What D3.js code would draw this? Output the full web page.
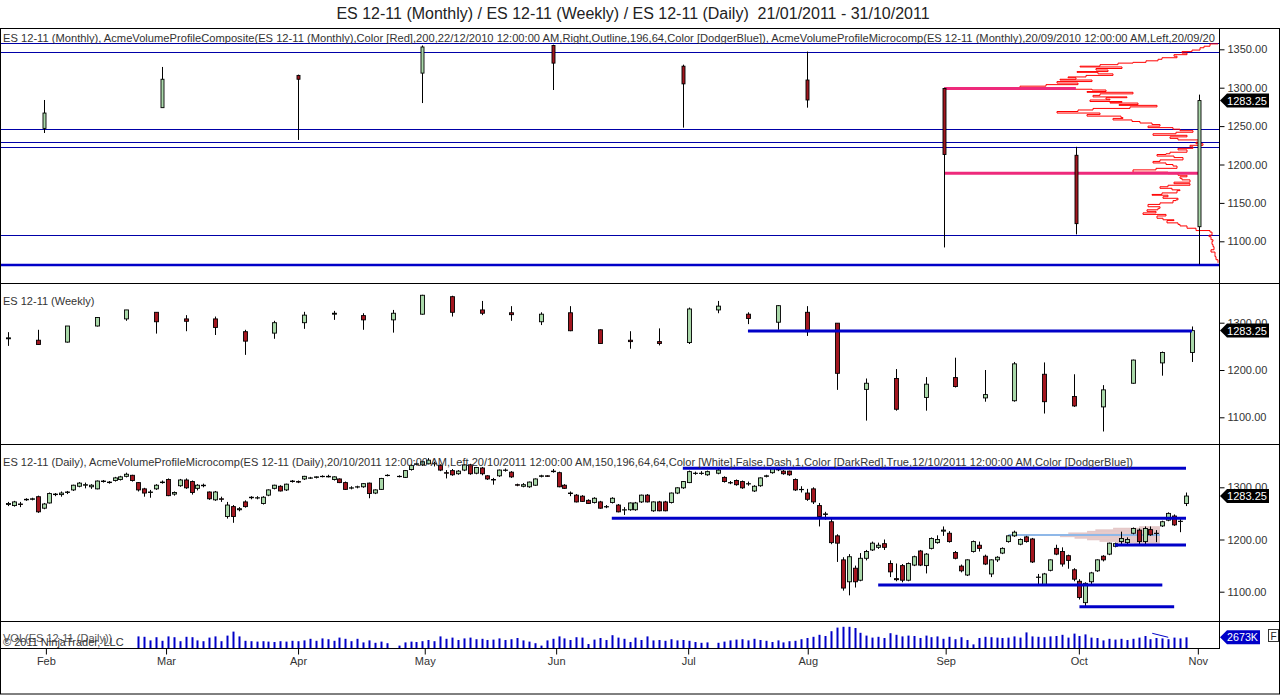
<!DOCTYPE html>
<html>
<head>
<meta charset="utf-8">
<script src="https://cdn.jsdelivr.net/npm/d3@7"></script>
<style>
  body { margin: 0; background: #fff; }
  text { font-family: "Liberation Sans", Arial, sans-serif; }
</style>
</head>
<body>
<svg id="chart" width="1280" height="695"></svg>
<script>
// ---- data ----
var titleText = "ES 12-11 (Monthly) / ES 12-11 (Weekly) / ES 12-11 (Daily) \u00a021/01/2011 - 31/10/2011";
var monthLabels = ["Feb", "Mar", "Apr", "May", "Jun", "Jul", "Aug", "Sep", "Oct", "Nov"];
// bar slot (daily bar index) where each month starts
var monthSlots = [6.4, 26.7, 49, 70.4, 92.6, 114.9, 135.1, 158.4, 180.9, 201];

// monthly bars Jan..Oct, placed at the month end slot: [open, high, low, close]
var monthlySlots = [6, 26, 49, 70, 92, 114, 135, 158.2, 180.4, 201.2];
var monthlyBars = [
  [1247, 1284, 1241, 1267], [1274, 1327, 1274, 1311], [1316, 1317, 1232, 1311],
  [1319, 1355, 1280, 1353], [1355, 1356, 1297, 1332], [1328, 1330, 1248, 1305],
  [1310, 1347, 1274, 1284], [1299, 1300, 1092, 1213], [1212, 1223, 1109, 1123],
  [1119, 1291, 1070, 1283.25]
];
// weekly bars, one every 5 daily slots
var weeklyBars = [
  [1266, 1280, 1251, 1268], [1263, 1285, 1254, 1254], [1259, 1293, 1258, 1293], [1293, 1312, 1292, 1311],
  [1308, 1327, 1304, 1327], [1322, 1322, 1277, 1302], [1308, 1316, 1282, 1303], [1308, 1313, 1274, 1290],
  [1281, 1285, 1232, 1261], [1278, 1304, 1266, 1300], [1300, 1323, 1287, 1316], [1318, 1325, 1306, 1320],
  [1315, 1320, 1285, 1306], [1306, 1327, 1279, 1320], [1318, 1359, 1317, 1358], [1355, 1357, 1313, 1322],
  [1327, 1346, 1316, 1320], [1321, 1335, 1304, 1317], [1302, 1322, 1295, 1318], [1321, 1335, 1282, 1283],
  [1285, 1286, 1256, 1256], [1263, 1282, 1245, 1260], [1260, 1288, 1252, 1256], [1258, 1332, 1255, 1329],
  [1327, 1346, 1320, 1335], [1318, 1322, 1297, 1309], [1301, 1337, 1285, 1336], [1322, 1335, 1272, 1281],
  [1299, 1299, 1158, 1193], [1159, 1182, 1093, 1172], [1182, 1202, 1114, 1117], [1142, 1185, 1114, 1170],
  [1184, 1226, 1163, 1165], [1141, 1200, 1133, 1148], [1135, 1217, 1133, 1213], [1191, 1216, 1108, 1133],
  [1144, 1191, 1122, 1124], [1122, 1168, 1070, 1158], [1172, 1222, 1171, 1221], [1215, 1239, 1188, 1237],
  [1237, 1292, 1217, 1283.25]
];
// daily bars, one per slot (null = empty slot): [open, high, low, close]
var dailyBars = [
  [1267,1272,1264,1269],[1265,1274,1263,1272],[1268,1272,1262,1267],[1276,1279,1274,1277],[1277,1280,1275,1278],
  [1282,1284,1251,1253],[1260,1270,1258,1268],[1270,1290,1269,1288],[1287,1289,1283,1286],[1286,1292,1282,1289],
  [1290,1293,1287,1291],[1295,1305,1293,1304],[1302,1310,1300,1308],[1304,1309,1298,1305],[1301,1306,1297,1304],
  [1297,1313,1296,1312],[1311,1314,1309,1312],[1309,1312,1307,1310],[1313,1320,1311,1318],[1315,1322,1313,1320],
  [1321,1328,1319,1325],[1323,1324,1311,1313],[1309,1310,1292,1295],[1297,1299,1282,1289],[1290,1295,1280,1291],
  [1297,1306,1295,1304],[1309,1313,1307,1310],[1315,1317,1283,1284],[1287,1292,1284,1290],[1303,1316,1301,1314],
  [1314,1317,1297,1299],[1311,1313,1286,1290],[1298,1306,1294,1304],[1303,1307,1300,1304],[1291,1292,1276,1278],
  [1276,1293,1274,1291],[1278,1282,1272,1277],[1244,1272,1240,1266],[1263,1266,1232,1244],[1257,1262,1254,1259],
  [1272,1275,1261,1263],[1280,1283,1277,1281],[1280,1283,1277,1280],[1269,1283,1267,1281],[1285,1296,1283,1295],
  [1298,1305,1296,1304],[1302,1304,1292,1293],[1295,1307,1293,1306],[1312,1314,1309,1311],[1311,1313,1308,1310],
  [1316,1322,1314,1321],[1318,1320,1316,1318],[1319,1321,1317,1320],[1321,1323,1319,1321],[1321,1324,1319,1320],
  [1315,1321,1313,1320],[1316,1317,1308,1309],[1309,1311,1295,1296],[1299,1302,1296,1299],[1301,1303,1298,1301],
  [1301,1308,1299,1307],[1308,1309,1279,1288],[1289,1296,1287,1295],[1296,1318,1295,1317],[1323,1325,1321,1323],
  null,
  [1321,1323,1319,1321],[1319,1333,1318,1332],[1334,1344,1332,1342],[1344,1347,1342,1345],
  [1343,1350,1341,1349],[1345,1356,1344,1352],[1345,1349,1340,1346],[1342,1344,1331,1333],[1328,1333,1317,1327],
  [1332,1335,1322,1324],[1326,1333,1324,1331],[1333,1344,1331,1343],[1343,1345,1324,1326],[1327,1339,1325,1338],
  [1337,1339,1323,1326],[1322,1323,1314,1316],[1315,1318,1305,1314],[1322,1334,1320,1333],[1333,1336,1330,1333],
  [1329,1331,1318,1320],[1305,1307,1302,1304],[1302,1308,1300,1305],[1301,1311,1299,1310],[1304,1317,1303,1316],
  [1321,1324,1319,1322],[1322,1323,1320,1321],[1330,1335,1328,1331],[1328,1330,1300,1301],[1304,1306,1297,1298],
  [1288,1292,1283,1289],[1285,1287,1271,1272],[1283,1285,1272,1273],[1275,1277,1268,1269],[1271,1281,1269,1279],
  [1272,1274,1259,1260],[1263,1266,1260,1263],[1271,1281,1269,1279],[1266,1268,1252,1253],[1257,1262,1247,1257],
  [1257,1271,1255,1270],[1257,1272,1255,1270],[1272,1286,1270,1285],[1285,1287,1271,1272],[1255,1273,1253,1272],
  [1272,1274,1254,1255],[1272,1274,1254,1255],[1271,1290,1269,1289],[1289,1300,1287,1299],[1299,1312,1297,1311],
  [1309,1332,1308,1330],[1327,1330,1324,1327],[1327,1331,1324,1327],[1324,1332,1322,1330],
  null,
  [1327,1336,1325,1333],[1319,1321,1309,1311],[1309,1312,1306,1309],[1313,1315,1303,1305],[1311,1313,1297,1299],
  [1307,1311,1303,1307],[1293,1304,1291,1302],[1303,1319,1301,1318],[1321,1324,1319,1322],[1328,1338,1326,1337],
  [1334,1337,1331,1334],[1331,1333,1324,1326],[1331,1332,1322,1324],[1315,1317,1293,1295],[1296,1302,1290,1296],
  [1289,1297,1274,1277],[1297,1300,1268,1272],[1265,1270,1225,1244],[1248,1253,1238,1249],[1234,1240,1191,1194],
  [1207,1210,1157,1193],[1161,1166,1102,1107],[1119,1172,1093,1167],[1145,1150,1108,1119],[1122,1174,1120,1164],
  [1164,1180,1160,1177],[1180,1196,1178,1193],[1185,1194,1182,1189],[1192,1200,1180,1185],[1154,1160,1128,1138],
  [1125,1154,1120,1123],[1150,1153,1118,1122],[1122,1156,1120,1154],[1151,1169,1149,1167],[1178,1180,1149,1151],
  [1150,1174,1135,1172],[1183,1204,1181,1202],[1194,1208,1192,1200],[1216,1225,1207,1218],[1212,1216,1194,1196],
  [1175,1178,1162,1164],[1149,1152,1137,1140],[1132,1162,1130,1161],[1177,1198,1175,1196],[1189,1196,1177,1183],
  [1168,1171,1151,1153],[1134,1162,1128,1161],[1161,1168,1157,1166],[1174,1185,1172,1183],[1196,1208,1194,1207],
  [1207,1217,1205,1214],[1191,1202,1189,1200],[1205,1207,1194,1196],[1201,1203,1155,1157],[1128,1134,1113,1128],
  [1114,1136,1112,1134],[1141,1162,1139,1161],[1183,1190,1170,1172],[1177,1185,1148,1153],[1169,1171,1144,1160],
  [1142,1145,1120,1124],[1120,1124,1085,1089],[1079,1118,1070,1116],[1119,1138,1113,1136],[1140,1162,1138,1161],
  [1168,1170,1158,1161],[1172,1194,1170,1193],[1187,1194,1185,1192],[1196,1215,1188,1202],[1194,1204,1188,1200],
  [1212,1223,1210,1221],[1218,1221,1190,1196],[1196,1225,1190,1221],[1219,1225,1207,1209],[1212,1218,1195,1212],
  [1226,1236,1224,1234],[1237,1252,1235,1250],[1245,1248,1226,1228],[1235,1242,1214,1235],[1269,1290,1264,1283.25]
];
// daily volume in thousands of contracts (null = no bar shown)
var dailyVolume = [
  null,null,null,null,null,null,null,null,null,null,
  null,null,null,null,null,null,null,null,null,null,
  null,null,2900,2800,1900,2700,1800,2900,2700,1700,
  2800,2700,1900,1700,2600,2900,1700,3100,4100,2900,
  1800,1700,1600,1700,1600,1500,1700,1600,1800,1700,
  1900,2300,1800,2400,2200,1800,2600,2300,1700,2300,
  1400,1900,1300,1600,1200,null,600,1400,1600,1500,
  1700,2000,1700,2900,2300,2600,2000,2400,2600,2200,
  2300,2000,2100,2400,2000,2200,2500,1900,1600,1200,
  600,1900,2300,2900,2400,2000,2700,2600,1000,2100,
  2500,2000,3200,2600,2300,1500,2600,2000,2900,1900,
  2000,1800,2200,1900,2000,1800,1500,1300,1400,null,
  1300,1600,1900,2100,2200,1900,2300,2000,1800,1500,
  1900,1400,1700,1800,2200,2500,2800,3300,3000,4200,
  5100,5300,5300,5000,3800,3100,2600,2800,2500,3700,
  3300,2900,3100,3000,2500,3100,2700,2900,2300,2800,
  2200,2700,2000,900,2500,2800,2700,2600,2500,2600,
  2900,2600,3900,2900,2800,2700,2900,3000,3300,2600,
  3600,3000,3400,2600,2500,1900,2300,2100,2300,2000,
  2300,2600,3000,2200,2500,2400,2200,2600,2400,2673
];
var lastPrice = 1283.25;
var lastVolume = 2673;
var volumeLine = [[193.3, 3675], [196, 2675]];

// monthly panel: horizontal levels, composite profile and microcomp lines
var monthlyLevels = [1358, 1346, 1246, 1229.6, 1222.7, 1108];
var monthlyLowLevel = 1069;
var pinkLevels = [[1299, 158.2, 180.4], [1188.5, 158.2, 201.2]];
var profilePrice = [1357, 1354, 1352, 1349, 1347, 1345, 1343, 1341, 1339, 1337, 1335, 1333, 1332, 1330, 1328, 1327,
  1325, 1323, 1321, 1320, 1318, 1316, 1314, 1313, 1311, 1310, 1308, 1306, 1304, 1302, 1300, 1298, 1297, 1295,
  1294, 1292, 1290, 1288, 1287, 1285, 1284, 1282, 1281, 1280, 1278, 1277, 1275, 1273, 1271, 1269, 1267, 1265,
  1263, 1261, 1260, 1258, 1256, 1254, 1252, 1250, 1248, 1246, 1244, 1242, 1240, 1238, 1236, 1234, 1232, 1229,
  1227, 1225, 1223, 1221, 1219, 1216, 1214, 1213, 1211, 1209, 1206, 1204, 1202, 1200, 1198, 1195, 1193, 1190,
  1188, 1186, 1184, 1182, 1180, 1177, 1175, 1173, 1171, 1169, 1167, 1166, 1163, 1161, 1160, 1158, 1156, 1154,
  1153, 1150, 1148, 1145, 1143, 1141, 1139, 1137, 1135, 1133, 1130, 1128, 1127, 1124, 1122, 1120, 1117, 1114,
  1112, 1108, 1106, 1102, 1100, 1096, 1093, 1089, 1086, 1083, 1080, 1076, 1072];
var profileVolume = [0, 8, 14, 18, 26, 36, 31, 44, 41, 56, 60, 72, 85, 100, 118, 138,
  96, 122, 110, 141, 120, 105, 132, 150, 142, 158, 126, 161, 140, 172, 198, 145, 126, 112,
  131, 85, 118, 125, 91, 112, 108, 128, 96, 108, 80, 99, 61, 88, 125, 140, 161, 118,
  131, 97, 95, 105, 86, 78, 66, 58, 70, 45, 38, 25, 42, 65, 31, 48, 40, 18,
  22, 15, 28, 25, 40, 31, 48, 52, 61, 44, 35, 58, 65, 52, 45, 41, 62, 85,
  50, 40, 31, 38, 36, 28, 44, 28, 50, 58, 46, 38, 41, 56, 66, 50, 55, 40,
  42, 45, 58, 70, 58, 60, 71, 62, 75, 52, 61, 55, 44, 51, 40, 38, 31, 22,
  8, 6, 9, 7, 5, 6, 5, 4, 7, 3, 3, 2, 0];

// weekly panel level
var weeklyLevel = [1282.5, 125, 200];

// daily panel levels [price, from slot, to slot]
var dailyLevels = [[1336.4, 114, 199], [1240.6, 102, 199], [1189.5, 187, 199], [1112.8, 147, 195], [1071, 181, 197]];
var dailyLightLevel = [1208.6, 169, 194.6];
var microPrice = [1224, 1221, 1218, 1215, 1212, 1209, 1206, 1203, 1200, 1197, 1194, 1191];
var microVolume = [20, 45, 62, 70, 88, 120, 96, 82, 70, 58, 42, 25];
var microAnchorSlot = 194.6;

var monthlyLabel = "ES 12-11 (Monthly), AcmeVolumeProfileComposite(ES 12-11 (Monthly),Color [Red],200,22/12/2010 12:00:00 AM,Right,Outline,196,64,Color [DodgerBlue]), AcmeVolumeProfileMicrocomp(ES 12-11 (Monthly),20/09/2010 12:00:00 AM,Left,20/09/20";
var weeklyLabel = "ES 12-11 (Weekly)";
var dailyLabel = "ES 12-11 (Daily), AcmeVolumeProfileMicrocomp(ES 12-11 (Daily),20/10/2011 12:00:00 AM,Left,20/10/2011 12:00:00 AM,150,196,64,64,Color [White],False,Dash,1,Color [DarkRed],True,12/10/2011 12:00:00 AM,Color [DodgerBlue])";

// ---- drawing ----
var upColor = "#a9d8a9", downColor = "#a3161f", levelBlue = "#0000c8";
var axisX = 1219;

function initialize(){
    var svg = d3.select("#chart");
    var x = d3.scaleLinear().domain([0, 199]).range([8, 1186]);

    // panels: price scale + vertical extent
    var p1 = {top: 28, bottom: 283, y: d3.scaleLinear().domain([1100, 1350]).range([241.3, 49.3])};
    var p2 = {top: 283, bottom: 444, y: d3.scaleLinear().domain([1100, 1300]).range([417.3, 322.7])};
    var p3 = {top: 444, bottom: 621, y: d3.scaleLinear().domain([1100, 1300]).range([591.7, 487.3])};
    var p4 = {top: 621, bottom: 648, y: d3.scaleLinear().domain([0, 6000]).range([648, 624])};

    var defs = svg.append("defs");
    [p1, p2, p3, p4].forEach(function(p, i){
        p.id = "clip" + i;
        defs.append("clipPath").attr("id", p.id)
            .append("rect").attr("x", 0).attr("y", p.top + 1)
            .attr("width", axisX).attr("height", p.bottom - p.top - 1);
        p.g = svg.append("g").attr("clip-path", "url(#" + p.id + ")");
    });

    // title
    svg.append("text").attr("x", 633).attr("y", 19).attr("text-anchor", "middle")
        .attr("font-size", 16).attr("fill", "#222").text(titleText);

    drawMonthly(p1, x);
    drawWeekly(p2, x);
    drawDaily(p3, x);
    drawVolume(p4, x);
    drawFrame(svg);
    drawAxes(svg, x, [p1, p2, p3, p4]);
    drawLabels(svg);
}

// candlestick marks for one series
function drawCandles(g, bars, slotOf, x, y, bodyW){
    var data = [];
    bars.forEach(function(b, i){
        if (b) data.push({slot: slotOf(i), o: b[0], h: b[1], l: b[2], c: b[3]});
    });
    var c = g.selectAll(null).data(data).enter().append("g");
    c.append("line")
        .attr("x1", function(d){ return Math.round(x(d.slot)) + 0.5; })
        .attr("x2", function(d){ return Math.round(x(d.slot)) + 0.5; })
        .attr("y1", function(d){ return y(d.h); })
        .attr("y2", function(d){ return y(d.l); })
        .attr("stroke", "#000").attr("stroke-width", 1);
    c.append("rect")
        .attr("x", function(d){ return Math.round(x(d.slot)) + 0.5 - bodyW / 2; })
        .attr("y", function(d){ return y(Math.max(d.o, d.c)); })
        .attr("width", bodyW)
        .attr("height", function(d){ return Math.max(0.3, Math.abs(y(d.o) - y(d.c))); })
        .attr("fill", function(d){ return d.c >= d.o ? upColor : downColor; })
        .attr("stroke", "#000").attr("stroke-width", 0.9);
}

function hLine(g, y1, x1, x2, color, width){
    g.append("line").attr("x1", x1).attr("x2", x2).attr("y1", y1).attr("y2", y1)
        .attr("stroke", color).attr("stroke-width", width);
}

function drawMonthly(p, x){
    var g = p.g, y = p.y;
    monthlyLevels.forEach(function(v){ hLine(g, Math.round(y(v)) + 0.5, 0, axisX, "#0000a8", 1); });
    hLine(g, y(monthlyLowLevel), 0, axisX, levelBlue, 2.5);

    // composite volume profile anchored on the right edge, drawn as an outline
    var px = d3.scaleLinear().domain([0, 200]).range([axisX - 1, axisX - 201]);
    var line = d3.line()
        .x(function(d){ return px(d[1]); })
        .y(function(d){ return y(d[0]); })
        .curve(d3.curveStepAfter);
    g.append("path").datum(d3.zip(profilePrice, profileVolume))
        .attr("d", line).attr("fill", "none").attr("stroke", "#ff0000").attr("stroke-width", 1);

    pinkLevels.forEach(function(l){ hLine(g, y(l[0]), x(l[1]), x(l[2]), "#ee2a7b", 3); });
    drawCandles(g, monthlyBars, function(i){ return monthlySlots[i]; }, x, y, 3);
}

function drawWeekly(p, x){
    drawCandles(p.g, weeklyBars, function(i){ return i * 5; }, x, p.y, 4);
    hLine(p.g, p.y(weeklyLevel[0]), x(weeklyLevel[1]), x(weeklyLevel[2]), levelBlue, 3);
}

function drawDaily(p, x){
    var g = p.g, y = p.y;
    // microcomp profile, anchored at its right end and growing left
    var mw = d3.scaleLinear().domain([0, 120]).range([0, 125]);
    var step = y(microPrice[1]) - y(microPrice[0]);
    g.selectAll(null).data(d3.zip(microPrice, microVolume)).enter().append("rect")
        .attr("x", function(d){ return x(microAnchorSlot) - mw(d[1]); })
        .attr("y", function(d){ return y(d[0]) - step / 2; })
        .attr("width", function(d){ return mw(d[1]); })
        .attr("height", step)
        .attr("fill", "#a84848").attr("fill-opacity", 0.3);
    hLine(g, y(dailyLightLevel[0]), x(dailyLightLevel[1]), x(dailyLightLevel[2]), "#8fb8e8", 2);
    drawCandles(g, dailyBars, function(i){ return i; }, x, y, 4);
    dailyLevels.forEach(function(l){ hLine(g, y(l[0]), x(l[1]), x(l[2]), levelBlue, 3); });
}

function drawVolume(p, x){
    var data = [];
    dailyVolume.forEach(function(v, i){ if (v != null) data.push({slot: i, v: v}); });
    p.g.selectAll(null).data(data).enter().append("rect")
        .attr("x", function(d){ return Math.round(x(d.slot)) - 0.5; })
        .attr("y", function(d){ return p.y(d.v); })
        .attr("width", 2)
        .attr("height", function(d){ return p.y(0) - p.y(d.v); })
        .attr("fill", levelBlue);
    p.g.append("line")
        .attr("x1", x(volumeLine[0][0])).attr("y1", p.y(volumeLine[0][1]))
        .attr("x2", x(volumeLine[1][0])).attr("y2", p.y(volumeLine[1][1]))
        .attr("stroke", levelBlue).attr("stroke-width", 1);
}

function drawFrame(svg){
    svg.append("rect").attr("x", 0.5).attr("y", 28.5).attr("width", 1279).attr("height", 665.5)
        .attr("fill", "none").attr("stroke", "#000");
    [283.5, 444.5, 621.5].forEach(function(v){ hLine(svg, v, 0, 1280, "#000", 1); });
    hLine(svg, 648.5, 0, axisX + 1, "#000", 1);
    svg.append("line").attr("x1", axisX + 0.5).attr("x2", axisX + 0.5).attr("y1", 28).attr("y2", 649)
        .attr("stroke", "#000");
}

// pentagon value tag on the price axis
function valueTag(svg, yc, label, fill, w){
    var x0 = axisX + 1;
    svg.append("path")
        .attr("d", "M" + x0 + "," + yc + "L" + (x0 + 7) + "," + (yc - 7) + "L" + (x0 + w) + "," + (yc - 7) +
            "L" + (x0 + w) + "," + (yc + 7) + "L" + (x0 + 7) + "," + (yc + 7) + "Z")
        .attr("fill", fill);
    svg.append("text").attr("x", x0 + 7).attr("y", yc + 4).attr("font-size", 11.5)
        .attr("textLength", w - 9).attr("lengthAdjust", "spacingAndGlyphs")
        .attr("fill", "#fff").text(label);
}

function drawAxes(svg, x, panels){
    var fmt = d3.format(".2f");
    var ticks = [[1100, 1150, 1200, 1250, 1300, 1350], [1100, 1200, 1300], [1100, 1200, 1300]];
    ticks.forEach(function(tv, i){
        var ax = svg.append("g").attr("transform", "translate(" + (axisX + 0.5) + ",0)")
            .call(d3.axisRight(panels[i].y).tickValues(tv).tickFormat(fmt).tickSize(5).tickPadding(3));
        ax.select(".domain").remove();
        ax.selectAll("text").attr("font-size", 11).attr("fill", "#333").attr("font-family", null);
    });
    valueTag(svg, panels[0].y(lastPrice), fmt(lastPrice), "#000", 49);
    valueTag(svg, panels[1].y(lastPrice), fmt(lastPrice), "#000", 49);
    valueTag(svg, panels[2].y(lastPrice), fmt(lastPrice), "#000", 49);
    valueTag(svg, panels[3].y(lastVolume), lastVolume + "K", levelBlue, 40);

    // "F" box
    svg.append("rect").attr("x", 1268.5).attr("y", 629.5).attr("width", 10).attr("height", 12)
        .attr("fill", "#fff").attr("stroke", "#333");
    svg.append("text").attr("x", 1273.5).attr("y", 639.5).attr("text-anchor", "middle")
        .attr("font-size", 10).attr("fill", "#222").text("F");

    // time axis
    var xa = svg.append("g").attr("transform", "translate(0,648.5)")
        .call(d3.axisBottom(x).tickValues(monthSlots)
            .tickFormat(function(d, i){ return monthLabels[i]; }).tickSize(6).tickPadding(3));
    xa.select(".domain").remove();
    xa.selectAll("text").attr("font-size", 11).attr("fill", "#333").attr("font-family", null);
}

function drawLabels(svg){
    var l1 = svg.append("text").attr("x", 3).attr("y", 42).attr("font-size", 11).attr("fill", "#333").text(monthlyLabel);
    svg.append("text").attr("x", 3).attr("y", 305).attr("font-size", 11).attr("fill", "#333").text(weeklyLabel);
    var l3 = svg.append("text").attr("x", 3).attr("y", 466).attr("font-size", 11).attr("fill", "#333").text(dailyLabel);
    // squeeze the long labels to the width they have in the picture
    l3.attr("textLength", 1130).attr("lengthAdjust", "spacingAndGlyphs");
    l1.attr("textLength", 1212).attr("lengthAdjust", "spacingAndGlyphs");

    svg.append("text").attr("x", 3).attr("y", 642).attr("font-size", 11).attr("fill", "#555").text("VOL(ES 12-11 (Daily))");
    svg.append("text").attr("x", 3).attr("y", 646).attr("font-size", 11).attr("fill", "#333").text("\u00a9 2011 NinjaTrader, LLC");
}

initialize();
</script>
</body>
</html>
